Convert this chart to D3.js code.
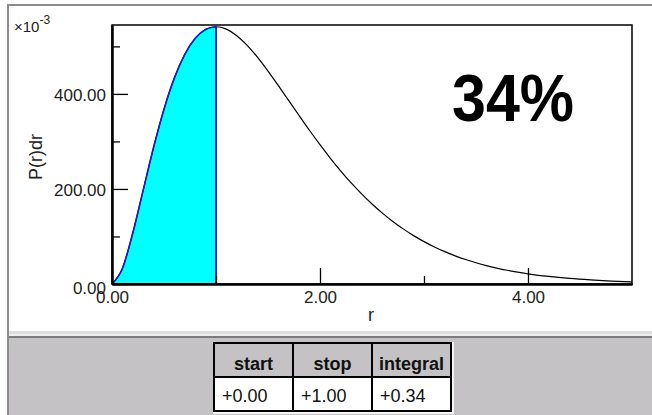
<!DOCTYPE html>
<html>
<head>
<meta charset="utf-8">
<script src="https://cdn.jsdelivr.net/npm/d3@7"></script>
<style>
html,body{margin:0;padding:0;background:#ffffff;}
svg{display:block;font-family:"Liberation Sans",Arial,sans-serif;}
</style>
</head>
<body>
<svg id="chart" width="652" height="415"></svg>
<script>
// ---- data ----
const rValues = [0,0.1,0.2,0.3,0.4,0.5,0.6,0.7,0.8,0.9,1.0,1.1,1.2,1.3,1.4,1.5,1.6,1.7,1.8,1.9,2.0,2.1,2.2,2.3,2.4,2.5,2.6,2.7,2.8,2.9,3.0,3.1,3.2,3.3,3.4,3.5,3.6,3.7,3.8,3.9,4.0,4.2,4.4,4.6,4.8,5.0];
const pValues = [0,32.7,107.3,197.6,287.6,367.9,433.7,483.3,516.9,535.6,541.3,536.3,522.5,502.1,476.8,448.1,417.4,385.8,354.1,323.0,293.1,264.5,237.7,212.7,189.6,168.4,149.2,131.7,116.0,101.8,89.2,78.0,68.1,59.3,51.5,44.7,38.7,33.5,28.9,24.9,21.5,15.9,11.7,8.6,6.2,4.5];
const shadeStart = 0.00, shadeStop = 1.00;
const xMajorTicks = [0,2,4];
const xMinorTicks = [1,3];
const yMajorTicks = [0,200,400];
const yMinorTicks = [100,300,500];
const tableHeaders = ["start","stop","integral"];
const tableValues = ["+0.00","+1.00","+0.34"];
const bigLabel = "34%";

const svg = d3.select("#chart");
const points = rValues.map((r,i)=>({r:r,p:pValues[i]}));

// ---- window chrome ----
svg.append("rect").attr("x",8).attr("y",5).attr("width",644).attr("height",327).attr("fill","#ffffff");
svg.append("rect").attr("x",8).attr("y",331).attr("width",644).attr("height",3).attr("fill","#dedede");
svg.append("rect").attr("x",8).attr("y",334).attr("width",644).attr("height",2).attr("fill","#f0f0f0");
svg.append("rect").attr("x",8).attr("y",336).attr("width",644).attr("height",2).attr("fill","#7c7c7c");
svg.append("rect").attr("x",8).attr("y",338).attr("width",644).attr("height",77).attr("fill","#c4c2c4");
svg.append("rect").attr("x",7).attr("y",4).attr("width",645).attr("height",2).attr("fill","#8c8c8c");
svg.append("rect").attr("x",7).attr("y",4).attr("width",2).attr("height",411).attr("fill","#8c8c8c");

// ---- scales ----
const x = d3.scaleLinear().domain([0,5]).range([112,632]);
const y = d3.scaleLinear().domain([0,545]).range([284,25]);

// ---- shaded area ----
const inShade = points.filter(d=>d.r>=shadeStart && d.r<=shadeStop);
const area = d3.area().x(d=>x(d.r)).y0(y(0)).y1(d=>y(d.p)).curve(d3.curveMonotoneX);
svg.append("path").datum(inShade).attr("d",area).attr("fill","#00ffff");
const line = d3.line().x(d=>x(d.r)).y(d=>y(d.p)).curve(d3.curveMonotoneX);
svg.append("path").datum(points).attr("d",line).attr("fill","none").attr("stroke","#000").attr("stroke-width",1.2);
svg.append("path").datum(inShade).attr("d",line).attr("fill","none").attr("stroke","#1c1cc0").attr("stroke-width",1.6);
svg.append("line").attr("x1",x(shadeStop)).attr("x2",x(shadeStop)).attr("y1",y(0)).attr("y2",y(pValues[rValues.indexOf(shadeStop)]))
  .attr("stroke","#1c1cc0").attr("stroke-width",2);

// ---- frame ----
svg.append("rect").attr("x",x(0)).attr("y",y(545)).attr("width",x(5)-x(0)).attr("height",y(0)-y(545))
  .attr("fill","none").attr("stroke","#000").attr("stroke-width",1.5);

// ---- axes ----
const fontSize = 17;
const gx = svg.append("g").attr("transform",`translate(0,${y(0)})`)
  .call(d3.axisBottom(x).tickValues(xMajorTicks).tickSizeInner(-16).tickSizeOuter(0).tickPadding(7).tickFormat(d3.format(".2f")));
const gxm = svg.append("g").attr("transform",`translate(0,${y(0)})`)
  .call(d3.axisBottom(x).tickValues(xMinorTicks).tickSizeInner(-8).tickSizeOuter(0).tickFormat(""));
const gy = svg.append("g").attr("transform",`translate(${x(0)},0)`)
  .call(d3.axisLeft(y).tickValues(yMajorTicks).tickSizeInner(-16).tickSizeOuter(0).tickPadding(6).tickFormat(d3.format(".2f")));
const gym = svg.append("g").attr("transform",`translate(${x(0)},0)`)
  .call(d3.axisLeft(y).tickValues(yMinorTicks).tickSizeInner(-8).tickSizeOuter(0).tickFormat(""));
[gx,gxm,gy,gym].forEach(g=>{
  g.select(".domain").attr("stroke","#000").attr("stroke-width",2);
  g.selectAll(".tick line").attr("stroke","#000").attr("stroke-width",1.3);
  g.selectAll(".tick text").attr("fill","#222").style("font-size",fontSize+"px").style("font-family","'Liberation Sans',Arial,sans-serif");
});
gy.selectAll(".tick text").attr("dy",d=>d===0?"0.55em":"0.36em");

// axis titles
svg.append("text").attr("x",371).attr("y",321).attr("text-anchor","middle")
  .style("font-size","18px").attr("fill","#222").text("r");
svg.append("text").attr("transform","translate(42,157) rotate(-90)").attr("text-anchor","middle")
  .style("font-size","18px").attr("fill","#222").text("P(r)dr");
const exp = svg.append("text").attr("x",14).attr("y",32).style("font-size","15px").attr("fill","#222");
exp.append("tspan").text("×10");
exp.append("tspan").attr("dy",-8).style("font-size","12px").text("-3");

// big label
svg.append("text").attr("x",452).attr("y",121).style("font-size","66px").style("font-weight","bold")
  .attr("textLength",122).attr("lengthAdjust","spacingAndGlyphs").attr("fill","#000").text(bigLabel);

// ---- table ----
const colX = [214,293,372,451];
const rowY = [343,377,411];
const tg = svg.append("g");
tg.append("rect").attr("x",colX[0]-1).attr("y",rowY[0]-1).attr("width",colX[3]-colX[0]+4).attr("height",rowY[2]-rowY[0]+4).attr("fill","#f4f4f4");
tableHeaders.forEach((h,i)=>{
  tg.append("rect").attr("x",colX[i]).attr("y",rowY[0]).attr("width",colX[i+1]-colX[i]).attr("height",rowY[1]-rowY[0])
    .attr("fill","#c4c2c4").attr("stroke","#000").attr("stroke-width",2);
  tg.append("text").attr("x",(colX[i]+colX[i+1])/2).attr("y",370).attr("text-anchor","middle")
    .style("font-size","18px").style("font-weight","bold").attr("fill","#111").text(h);
});
tableValues.forEach((v,i)=>{
  tg.append("rect").attr("x",colX[i]).attr("y",rowY[1]).attr("width",colX[i+1]-colX[i]).attr("height",rowY[2]-rowY[1])
    .attr("fill","#ffffff").attr("stroke","#000").attr("stroke-width",2);
  tg.append("text").attr("x",colX[i]+8).attr("y",402)
    .style("font-size","18px").attr("fill","#111").text(v);
});
</script>
</body>
</html>
